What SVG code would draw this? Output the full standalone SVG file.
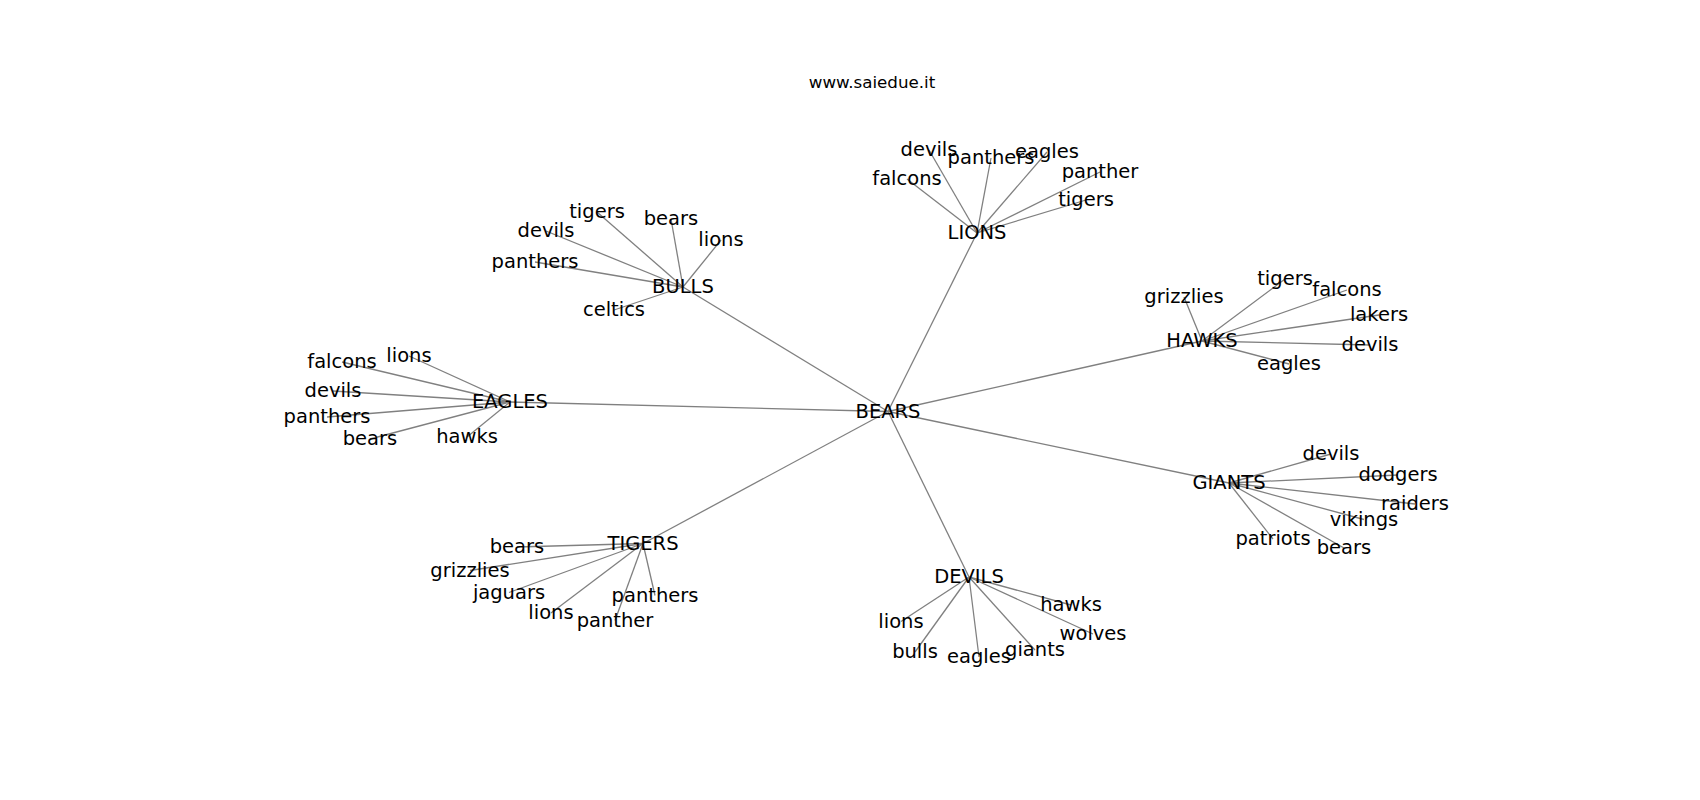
<svg xmlns="http://www.w3.org/2000/svg" width="1700" height="800" viewBox="0 0 1700 800">
<style>
.e{stroke:#808080;stroke-width:1.3;fill:none}
text{font-family:"DejaVu Sans","Liberation Sans",sans-serif;fill:#000}
.n{font-size:19.5px;text-anchor:middle}
.t{font-size:16.7px;text-anchor:middle}
</style>
<rect width="1700" height="800" fill="#fff"/>
<text class="t" x="872" y="88">www.saiedue.it</text>
<g id="edges" class="e">
<line x1="888" y1="411.5" x2="977" y2="233"/>
<line x1="888" y1="411.5" x2="683" y2="287"/>
<line x1="888" y1="411.5" x2="510" y2="402"/>
<line x1="888" y1="411.5" x2="1202" y2="341"/>
<line x1="888" y1="411.5" x2="1229" y2="483"/>
<line x1="888" y1="411.5" x2="643" y2="543.5"/>
<line x1="888" y1="411.5" x2="969" y2="577"/>
<line x1="977" y1="233" x2="929" y2="150"/>
<line x1="977" y1="233" x2="991" y2="158"/>
<line x1="977" y1="233" x2="1047" y2="152"/>
<line x1="977" y1="233" x2="907" y2="179"/>
<line x1="977" y1="233" x2="1100" y2="172"/>
<line x1="977" y1="233" x2="1086" y2="200"/>
<line x1="683" y1="287" x2="597" y2="212"/>
<line x1="683" y1="287" x2="671" y2="219"/>
<line x1="683" y1="287" x2="721" y2="240"/>
<line x1="683" y1="287" x2="546" y2="231"/>
<line x1="683" y1="287" x2="535" y2="262"/>
<line x1="683" y1="287" x2="614" y2="310"/>
<line x1="510" y1="402" x2="409" y2="356"/>
<line x1="510" y1="402" x2="342" y2="362"/>
<line x1="510" y1="402" x2="333" y2="391"/>
<line x1="510" y1="402" x2="327" y2="417"/>
<line x1="510" y1="402" x2="370" y2="439"/>
<line x1="510" y1="402" x2="467" y2="437"/>
<line x1="1202" y1="341" x2="1285" y2="279"/>
<line x1="1202" y1="341" x2="1347" y2="290"/>
<line x1="1202" y1="341" x2="1184" y2="297"/>
<line x1="1202" y1="341" x2="1379" y2="315"/>
<line x1="1202" y1="341" x2="1370" y2="345"/>
<line x1="1202" y1="341" x2="1289" y2="364"/>
<line x1="1229" y1="483" x2="1331" y2="454"/>
<line x1="1229" y1="483" x2="1398" y2="475"/>
<line x1="1229" y1="483" x2="1415" y2="504"/>
<line x1="1229" y1="483" x2="1364" y2="519.5"/>
<line x1="1229" y1="483" x2="1273" y2="539"/>
<line x1="1229" y1="483" x2="1344" y2="548"/>
<line x1="643" y1="543.5" x2="517" y2="547"/>
<line x1="643" y1="543.5" x2="470" y2="570.5"/>
<line x1="643" y1="543.5" x2="509" y2="592.5"/>
<line x1="643" y1="543.5" x2="655" y2="595.5"/>
<line x1="643" y1="543.5" x2="551" y2="613"/>
<line x1="643" y1="543.5" x2="615" y2="620.5"/>
<line x1="969" y1="577" x2="1071" y2="605"/>
<line x1="969" y1="577" x2="901" y2="621.5"/>
<line x1="969" y1="577" x2="915" y2="652"/>
<line x1="969" y1="577" x2="979" y2="657"/>
<line x1="969" y1="577" x2="1035" y2="650"/>
<line x1="969" y1="577" x2="1093" y2="634"/>
</g>
<g id="BEARS"><text class="n" x="888" y="417.8">BEARS</text></g>
<g id="LIONS"><text class="n" x="977" y="239.3">LIONS</text></g>
<g id="BULLS"><text class="n" x="683" y="293.3">BULLS</text></g>
<g id="EAGLES"><text class="n" x="510" y="408.3">EAGLES</text></g>
<g id="HAWKS"><text class="n" x="1202" y="347.3">HAWKS</text></g>
<g id="GIANTS"><text class="n" x="1229" y="489.3">GIANTS</text></g>
<g id="TIGERS"><text class="n" x="643" y="549.8">TIGERS</text></g>
<g id="DEVILS"><text class="n" x="969" y="583.3">DEVILS</text></g>
<g id="lions-devils"><text class="n" x="929" y="156.3">devils</text></g>
<g id="lions-panthers"><text class="n" x="991" y="164.3">panthers</text></g>
<g id="lions-eagles"><text class="n" x="1047" y="158.3">eagles</text></g>
<g id="lions-falcons"><text class="n" x="907" y="185.3">falcons</text></g>
<g id="lions-panther"><text class="n" x="1100" y="178.3">panther</text></g>
<g id="lions-tigers"><text class="n" x="1086" y="206.3">tigers</text></g>
<g id="bulls-tigers"><text class="n" x="597" y="218.3">tigers</text></g>
<g id="bulls-bears"><text class="n" x="671" y="225.3">bears</text></g>
<g id="bulls-lions"><text class="n" x="721" y="246.3">lions</text></g>
<g id="bulls-devils"><text class="n" x="546" y="237.3">devils</text></g>
<g id="bulls-panthers"><text class="n" x="535" y="268.3">panthers</text></g>
<g id="bulls-celtics"><text class="n" x="614" y="316.3">celtics</text></g>
<g id="eagles-lions"><text class="n" x="409" y="362.3">lions</text></g>
<g id="eagles-falcons"><text class="n" x="342" y="368.3">falcons</text></g>
<g id="eagles-devils"><text class="n" x="333" y="397.3">devils</text></g>
<g id="eagles-panthers"><text class="n" x="327" y="423.3">panthers</text></g>
<g id="eagles-bears"><text class="n" x="370" y="445.3">bears</text></g>
<g id="eagles-hawks"><text class="n" x="467" y="443.3">hawks</text></g>
<g id="hawks-tigers"><text class="n" x="1285" y="285.3">tigers</text></g>
<g id="hawks-falcons"><text class="n" x="1347" y="296.3">falcons</text></g>
<g id="hawks-grizzlies"><text class="n" x="1184" y="303.3">grizzlies</text></g>
<g id="hawks-lakers"><text class="n" x="1379" y="321.3">lakers</text></g>
<g id="hawks-devils"><text class="n" x="1370" y="351.3">devils</text></g>
<g id="hawks-eagles"><text class="n" x="1289" y="370.3">eagles</text></g>
<g id="giants-devils"><text class="n" x="1331" y="460.3">devils</text></g>
<g id="giants-dodgers"><text class="n" x="1398" y="481.3">dodgers</text></g>
<g id="giants-raiders"><text class="n" x="1415" y="510.3">raiders</text></g>
<g id="giants-vikings"><text class="n" x="1364" y="525.8">vikings</text></g>
<g id="giants-patriots"><text class="n" x="1273" y="545.3">patriots</text></g>
<g id="giants-bears"><text class="n" x="1344" y="554.3">bears</text></g>
<g id="tigers-bears"><text class="n" x="517" y="553.3">bears</text></g>
<g id="tigers-grizzlies"><text class="n" x="470" y="576.8">grizzlies</text></g>
<g id="tigers-jaguars"><text class="n" x="509" y="598.8">jaguars</text></g>
<g id="tigers-panthers"><text class="n" x="655" y="601.8">panthers</text></g>
<g id="tigers-lions"><text class="n" x="551" y="619.3">lions</text></g>
<g id="tigers-panther"><text class="n" x="615" y="626.8">panther</text></g>
<g id="devils-hawks"><text class="n" x="1071" y="611.3">hawks</text></g>
<g id="devils-lions"><text class="n" x="901" y="627.8">lions</text></g>
<g id="devils-bulls"><text class="n" x="915" y="658.3">bulls</text></g>
<g id="devils-eagles"><text class="n" x="979" y="663.3">eagles</text></g>
<g id="devils-giants"><text class="n" x="1035" y="656.3">giants</text></g>
<g id="devils-wolves"><text class="n" x="1093" y="640.3">wolves</text></g>
</svg>
